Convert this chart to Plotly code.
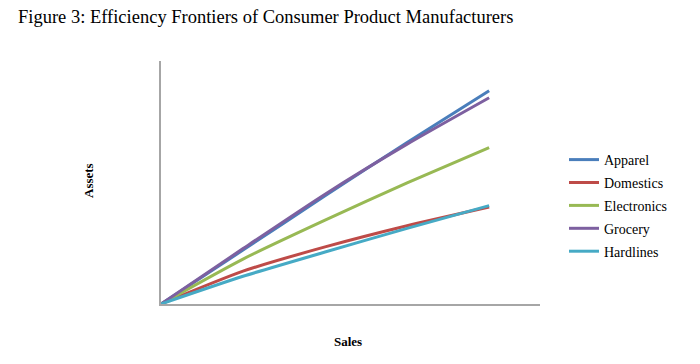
import plotly.graph_objects as go

# Data (relative units; no axis tick values in the original)
sales = [0, 0.25, 0.5, 0.75, 1.0]
series_names = ["Apparel", "Domestics", "Electronics", "Grocery", "Hardlines"]
apparel = [0, 0.222, 0.445, 0.665, 0.878]
domestics = [0, 0.135, 0.235, 0.322, 0.399]
electronics = [0, 0.185, 0.345, 0.498, 0.644]
grocery = [0, 0.228, 0.452, 0.658, 0.849]
hardlines = [0, 0.114, 0.214, 0.311, 0.405]
values = [apparel, domestics, electronics, grocery, hardlines]
colors = ["#4A7EBB", "#BE4B48", "#98B954", "#7D60A0", "#46AAC5"]

serif = "Liberation Serif, Times New Roman, serif"

W, H = 700, 364
plot_left, plot_right, plot_top, plot_bottom = 161, 540, 61, 304
pw = plot_right - plot_left
ph = plot_bottom - plot_top

fig = go.Figure()
for name, vals, col in zip(series_names, values, colors):
    fig.add_trace(go.Scatter(
        x=sales, y=vals, mode="lines", name=name, legendgroup=name,
        line=dict(color=col, width=3, shape="spline", smoothing=0.6),
        hoverinfo="skip",
    ))

fig.update_layout(
    width=W, height=H, autosize=False,
    margin=dict(l=plot_left, r=W - plot_right, t=plot_top, b=H - plot_bottom),
    paper_bgcolor="white", plot_bgcolor="white",
    title=dict(text="Figure 3: Efficiency Frontiers of Consumer Product Manufacturers",
               x=18 / W, xanchor="left", y=1 - 17 / H, yanchor="middle",
               font=dict(family=serif, size=18.5, color="black")),
    xaxis=dict(range=[0, 1.155], showgrid=False, zeroline=False, showticklabels=False,
               ticks="", showline=True, linecolor="#A6A6A6", linewidth=1.5),
    yaxis=dict(range=[0, 1], showgrid=False, zeroline=False, showticklabels=False,
               ticks="", showline=True, linecolor="#A6A6A6", linewidth=1.5),
    legend=dict(x=(564 - 161) / pw, xanchor="left", y=(304 - 205.5) / ph, yanchor="middle",
                font=dict(family=serif, size=14, color="black"),
                itemwidth=30, tracegroupgap=1.7, traceorder="grouped"),
    showlegend=True,
    annotations=[
        dict(text="<b>Assets</b>", xref="paper", yref="paper", x=(88 - 161) / pw, y=(304 - 181) / ph,
             xanchor="center", yanchor="middle",
             showarrow=False, textangle=-90, font=dict(family=serif, size=13, color="black")),
        dict(text="<b>Sales</b>", xref="paper", yref="paper", x=(348 - 161) / pw, y=(304 - 341) / ph,
             xanchor="center", yanchor="middle",
             showarrow=False, font=dict(family=serif, size=13, color="black")),
    ],
)

fig.write_html("out.html", config={"displayModeBar": False},
               post_script="document.body.style.margin='0px';")
